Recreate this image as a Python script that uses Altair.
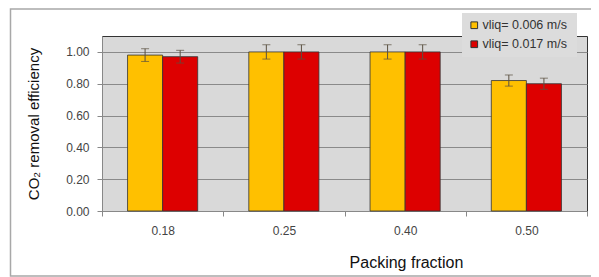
import altair as alt
import pandas as pd

categories = ["0.18", "0.25", "0.40", "0.50"]
series = ["vliq= 0.006  m/s", "vliq= 0.017  m/s"]
values_006 = [0.98, 1.00, 1.00, 0.82]
values_017 = [0.97, 1.00, 1.00, 0.80]
err_006 = [0.04, 0.045, 0.045, 0.035]
err_017 = [0.04, 0.045, 0.045, 0.035]
y_ticks = [0, 0.2, 0.4, 0.6, 0.8, 1.0]
colors = ["#FFC000", "#DD0000"]

rows = []
for i, c in enumerate(categories):
    rows.append({"cat": c, "series": series[0], "v": values_006[i],
                 "lo": values_006[i] - err_006[i], "hi": values_006[i] + err_006[i]})
    rows.append({"cat": c, "series": series[1], "v": values_017[i],
                 "lo": values_017[i] - err_017[i], "hi": values_017[i] + err_017[i]})
df = pd.DataFrame(rows)

FONT = "Liberation Sans"

x_axis = alt.Axis(title="Packing fraction", labelAngle=0, tickBand="extent",
                  labelFontSize=12, labelColor="#444", labelPadding=9,
                  tickColor="#888", domainColor="#888", tickSize=5,
                  titleFontSize=16, titleFontWeight="normal", titleColor="#111",
                  titleX=304, titleY=56, titleBaseline="alphabetic",
                  titleAlign="center", grid=False)
y_axis = alt.Axis(title="CO\u2082 removal efficiency", values=y_ticks,
                  format=".2f", grid=True, gridColor="#8a8a8a", labelOverlap=False,
                  tickColor="#888", domainColor="#888", tickSize=5,
                  labelFontSize=12, labelColor="#444", labelPadding=8,
                  titleFontSize=15, titleFontWeight="normal", titleColor="#111",
                  titleX=-69, titleY=87.5, titleAngle=270, titleAlign="center",
                  titleBaseline="middle")
x_scale = alt.Scale(paddingInner=0, paddingOuter=0)
y_scale = alt.Scale(domain=[0, 1.1], nice=False)

def X():
    return alt.X("cat:N", sort=categories, scale=x_scale, axis=x_axis)

xo_enc = alt.XOffset("series:N", sort=series,
                     scale=alt.Scale(paddingOuter=0.729, paddingInner=0))

bars = alt.Chart(df).mark_bar(stroke="#333", strokeWidth=0.8).encode(
    x=X(),
    xOffset=xo_enc,
    y=alt.Y("v:Q", scale=y_scale, axis=y_axis),
    color=alt.Color("series:N", sort=series,
                    scale=alt.Scale(domain=series, range=colors),
                    legend=alt.Legend(title=None, orient="none", legendX=360, legendY=-23,
                                      fillColor="#dcdcdc", padding=6, symbolType="square",
                                      symbolSize=45, symbolStrokeColor="#333",
                                      symbolStrokeWidth=1, labelFontSize=12.5,
                                      labelColor="#333", rowPadding=6, labelOffset=2)),
)

rules = alt.Chart(df).mark_rule(color="#5a5040", strokeWidth=1).encode(
    x=X(), xOffset=xo_enc,
    y=alt.Y("lo:Q", scale=y_scale, axis=y_axis), y2="hi:Q")
caps_hi = alt.Chart(df).mark_tick(color="#5a5040", size=8, thickness=1, orient="horizontal").encode(
    x=X(), xOffset=xo_enc, y=alt.Y("hi:Q", scale=y_scale, axis=y_axis))
caps_lo = alt.Chart(df).mark_tick(color="#5a5040", size=8, thickness=1, orient="horizontal").encode(
    x=X(), xOffset=xo_enc, y=alt.Y("lo:Q", scale=y_scale, axis=y_axis))

frame = alt.Chart(alt.Data(values=[{}])).mark_rect(
    filled=False, stroke="#a8a8a8", strokeWidth=1.5).encode(
    x=alt.value(-91.5), x2=alt.value(500), y=alt.value(-27), y2=alt.value(240))

chart = alt.layer(frame, bars, rules, caps_hi, caps_lo).properties(
    width=485, height=175,
    autosize=alt.AutoSizeParams(type="none"),
    padding={"left": 94, "top": 28, "right": 4, "bottom": 66},
).configure(font=FONT).configure_view(
    fill="#d9d9d9", stroke="#333", strokeWidth=1
).configure_axis(labelFont=FONT, titleFont=FONT)

chart.save("out.html", embed_options={"renderer": "svg", "actions": False})
